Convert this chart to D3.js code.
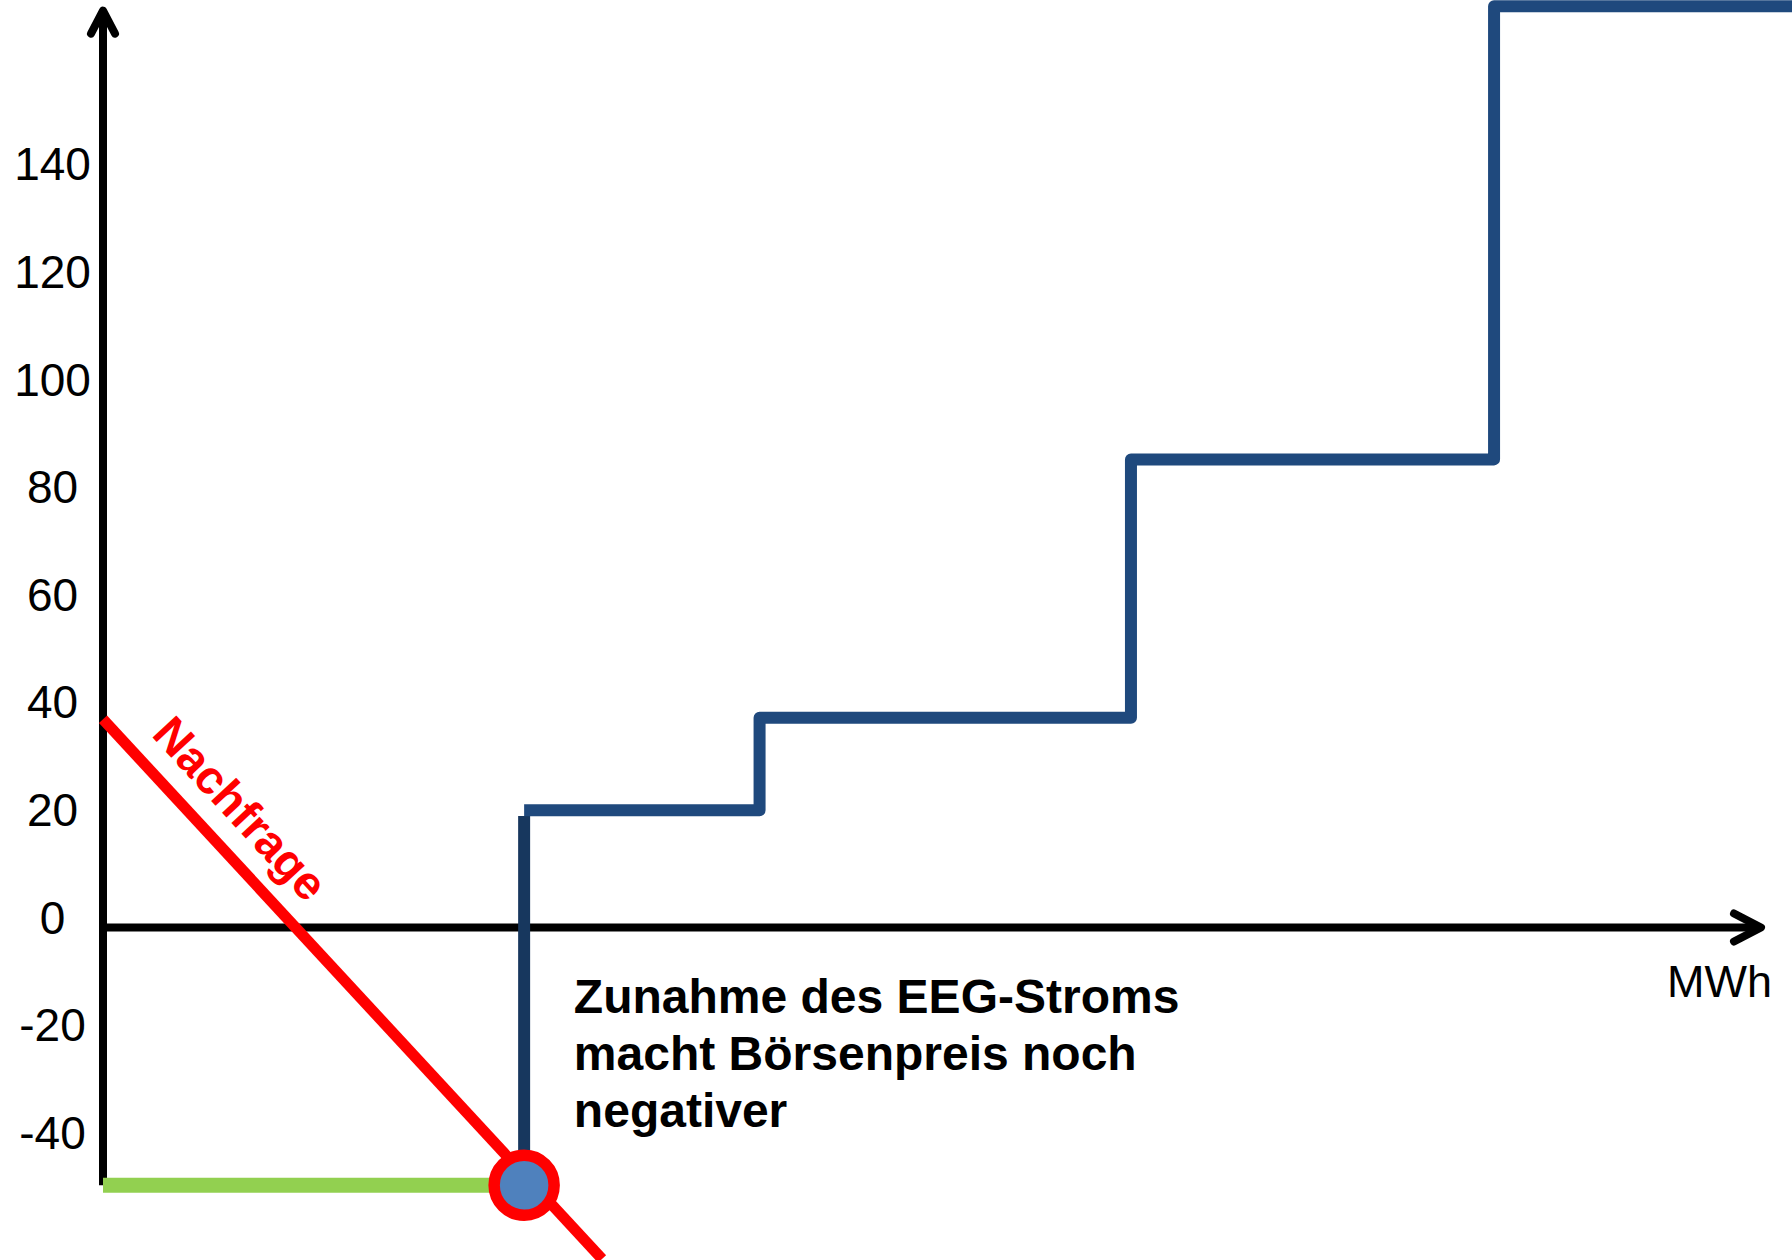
<!DOCTYPE html>
<html>
<head>
<meta charset="utf-8">
<script src="https://cdn.jsdelivr.net/npm/d3@7"></script>
<style>
body { margin: 0; background: #fff; }
svg { display: block; font-family: "Liberation Sans", Arial, sans-serif; }
</style>
</head>
<body>
<div id="view"></div>
<script>

// price ticks on the y axis
var priceTicks = [140, 120, 100, 80, 60, 40, 20, 0, -20, -40];

// merit order: where each block starts (MWh) and its price
var blockStart = [25.4, 39.6, 62.0, 83.9, 102];
var blockPrice = [21.8, 39.0, 87.0, 171.2, 171.2];

// EEG feed-in: vertical part of the supply curve
var eegQty = 25.4;
var eegPrice = [-47.9, 20.7];

// demand line, two end points
var demandQty = [0, 30.1];
var demandPrice = [38.7, -61.6];

// market clearing point
var clearQty = 25.4;
var clearPrice = -47.9;

var axisTop = 170.4;
var axisRight = 100;

var noteLines = ["Zunahme des EEG-Stroms", "macht Börsenpreis noch", "negativer"];
var unitLabel = "MWh";
var demandLabel = "Nachfrage";

var view = {
    width: 1792,
    height: 1260,
    x: d3.scaleLinear().domain([0, 100]).range([103, 1761]),
    y: d3.scaleLinear().domain([0, 140]).range([927.5, 174.2]),
    colors: {
        axis: "#000",
        supply: "#1f497d",
        eeg: "#17375e",
        demand: "#ff0000",
        floor: "#92d050",
        point: "#4f81bd",
    },
};

var svg = d3.select("#view")
    .append("svg")
    .attr("width", view.width)
    .attr("height", view.height)
;

drawAxes(svg);
drawCurves(svg);
drawTexts(svg);

function drawAxes(svg) {
    var x = view.x, y = view.y;
    var g = svg.append("g").attr("class", "axes");

    // y axis
    g.append("line")
        .attr("x1", x(0)).attr("x2", x(0))
        .attr("y1", y(clearPrice)).attr("y2", y(axisTop))
        .attr("stroke", view.colors.axis)
        .attr("stroke-width", 8)
    ;
    g.append("path")
        .attr("d", `M${x(0) - 12},${y(axisTop) + 23} L${x(0)},${y(axisTop)} L${x(0) + 12},${y(axisTop) + 23}`)
        .attr("fill", "none")
        .attr("stroke", view.colors.axis)
        .attr("stroke-width", 8)
        .attr("stroke-linecap", "round")
        .attr("stroke-linejoin", "round")
    ;

    // x axis
    g.append("line")
        .attr("x1", x(0)).attr("x2", x(axisRight))
        .attr("y1", y(0)).attr("y2", y(0))
        .attr("stroke", view.colors.axis)
        .attr("stroke-width", 8)
    ;
    g.append("path")
        .attr("d", `M${x(axisRight) - 27},${y(0) - 14} L${x(axisRight)},${y(0)} L${x(axisRight) - 27},${y(0) + 14}`)
        .attr("fill", "none")
        .attr("stroke", view.colors.axis)
        .attr("stroke-width", 8)
        .attr("stroke-linecap", "round")
        .attr("stroke-linejoin", "round")
    ;

    g.selectAll("text.tick")
        .data(priceTicks)
        .enter()
        .append("text")
        .attr("class", "tick")
        .attr("x", 52.5)
        .attr("y", d => y(d) + 6.2)
        .attr("text-anchor", "middle")
        .attr("font-size", 46)
        .attr("fill", "#000")
        .text(d => d)
    ;

    g.append("text")
        .attr("x", x(axisRight) + 11)
        .attr("y", y(0) + 69.5)
        .attr("text-anchor", "end")
        .attr("font-size", 45)
        .attr("fill", "#000")
        .text(unitLabel)
    ;
}

function drawCurves(svg) {
    var x = view.x, y = view.y;
    var g = svg.append("g").attr("class", "curves");

    // floor price line up to the clearing point
    g.append("line")
        .attr("x1", x(0)).attr("x2", x(clearQty))
        .attr("y1", y(clearPrice)).attr("y2", y(clearPrice))
        .attr("stroke", view.colors.floor)
        .attr("stroke-width", 15)
    ;

    var demand = d3.range(demandQty.length).map(i => [demandQty[i], demandPrice[i]]);
    g.append("path")
        .attr("d", d3.line().x(d => x(d[0])).y(d => y(d[1]))(demand))
        .attr("fill", "none")
        .attr("stroke", view.colors.demand)
        .attr("stroke-width", 11)
    ;

    g.append("line")
        .attr("x1", x(eegQty)).attr("x2", x(eegQty))
        .attr("y1", y(eegPrice[0])).attr("y2", y(eegPrice[1]))
        .attr("stroke", view.colors.eeg)
        .attr("stroke-width", 12)
    ;

    var blocks = blockStart.map((q, i) => [q, blockPrice[i]]);
    var step = d3.line()
        .x(d => x(d[0]))
        .y(d => y(d[1]))
        .curve(d3.curveStepAfter)
    ;
    g.append("path")
        .attr("d", step(blocks))
        .attr("fill", "none")
        .attr("stroke", view.colors.supply)
        .attr("stroke-width", 12)
        .attr("stroke-linejoin", "round")
    ;

    g.append("circle")
        .attr("cx", x(clearQty))
        .attr("cy", y(clearPrice))
        .attr("r", 30)
        .attr("fill", view.colors.point)
        .attr("stroke", view.colors.demand)
        .attr("stroke-width", 11.5)
    ;
}

function drawTexts(svg) {
    var x = view.x, y = view.y;

    // label sits along the demand line, lifted off it
    var x0 = x(demandQty[0]), y0 = y(demandPrice[0]);
    var x1 = x(demandQty[1]), y1 = y(demandPrice[1]);
    var angle = Math.atan2(y1 - y0, x1 - x0);
    var ux = Math.cos(angle), uy = Math.sin(angle);
    var px = x0 + ux * 44 + uy * 24;
    var py = y0 + uy * 44 - ux * 24;
    svg.append("text")
        .attr("transform", `translate(${px},${py}) rotate(${angle * 180 / Math.PI})`)
        .attr("font-size", 47)
        .attr("font-weight", "bold")
        .attr("fill", view.colors.demand)
        .text(demandLabel)
    ;

    var note = svg.append("text")
        .attr("x", x(28.4))
        .attr("y", y(-15.9))
        .attr("font-size", 48)
        .attr("font-weight", "bold")
        .attr("fill", "#000")
    ;
    note.selectAll("tspan")
        .data(noteLines)
        .enter()
        .append("tspan")
        .attr("x", x(28.4))
        .attr("dy", (d, i) => i ? 57 : 0)
        .text(d => d)
    ;
}

</script>
</body>
</html>
